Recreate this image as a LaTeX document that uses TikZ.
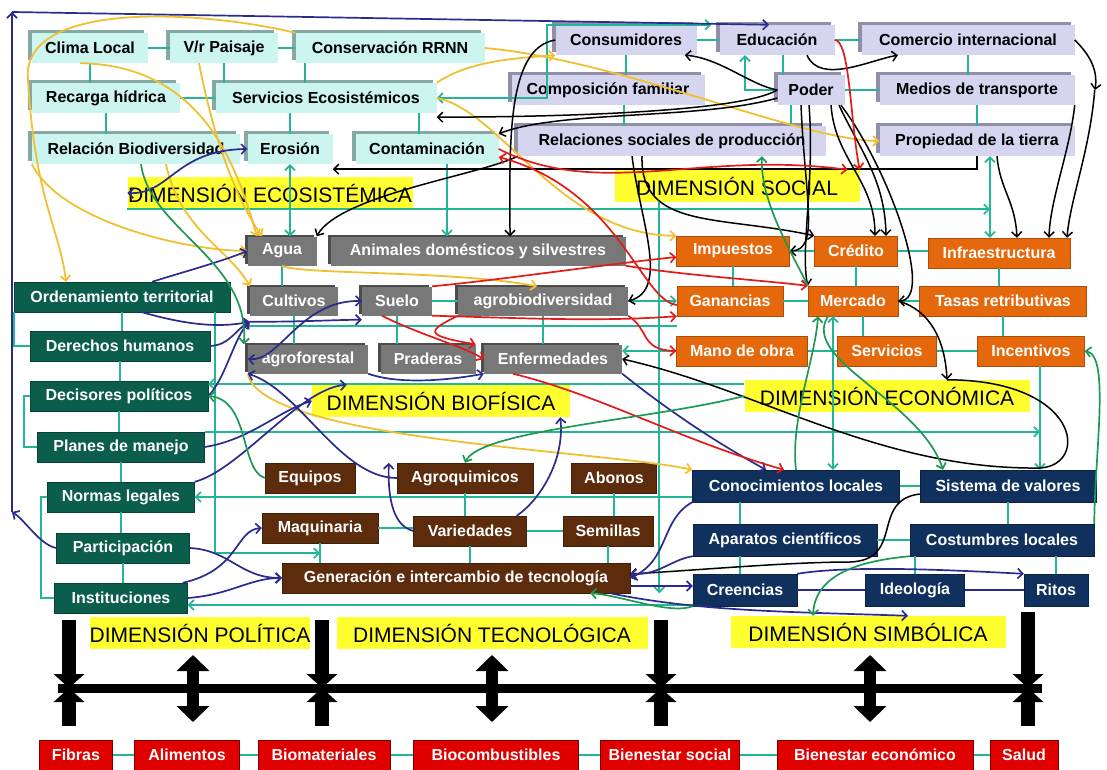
\documentclass[tikz,border=0pt]{standalone}
\usepackage{fontspec}
\setmainfont{Liberation Sans}
\usetikzlibrary{arrows.meta,shadows}

\definecolor{ecofondo}{HTML}{CCF5EF}
\definecolor{ecosombra}{HTML}{86A8A3}
\definecolor{socfondo}{HTML}{D5D5F0}
\definecolor{socsombra}{HTML}{9090AA}
\definecolor{biofondo}{HTML}{787878}
\definecolor{biosombra}{HTML}{4C4C4C}
\definecolor{ecnfondo}{HTML}{E5680C}
\definecolor{polfondo}{HTML}{0C5E4C}
\definecolor{tecfondo}{HTML}{5C2C0C}
\definecolor{simfondo}{HTML}{10305E}
\definecolor{prodfondo}{HTML}{E00000}
\definecolor{amarillo}{HTML}{FFFF30}
\definecolor{turquesa}{HTML}{22B598}
\definecolor{oro}{HTML}{F0C032}
\definecolor{azul}{HTML}{2B2B8E}
\definecolor{rojo}{HTML}{E21A1A}
\definecolor{verde}{HTML}{1E9955}

\tikzset{
  >={Straight Barb[length=5pt,width=10pt]},
  caja/.style={rectangle, minimum height=30pt, inner sep=2pt, text=white,
    font=\bfseries\fontsize{16}{18}\selectfont},
  ecobox/.style={caja, fill=ecofondo, text=black,
    general shadow={fill=ecosombra, shadow xshift=-4pt, shadow yshift=3pt}},
  socbox/.style={caja, fill=socfondo, text=black,
    general shadow={fill=socsombra, shadow xshift=-4pt, shadow yshift=3pt}},
  biobox/.style={caja, minimum height=29pt, fill=biofondo,
    general shadow={fill=biosombra, shadow xshift=-3pt, shadow yshift=2pt}},
  ecnbox/.style={caja, fill=ecnfondo, draw=ecnfondo!75!black},
  polbox/.style={caja, fill=polfondo, draw=polfondo!70!black},
  tecbox/.style={caja, fill=tecfondo, draw=tecfondo!70!black},
  simbox/.style={caja, minimum height=32pt, fill=simfondo, draw=simfondo!70!black},
  prodbox/.style={caja, fill=prodfondo, draw=prodfondo!55!black, line width=1pt},
  dimlabel/.style={rectangle, fill=amarillo, minimum height=32pt, inner sep=0pt,
    font=\fontsize{21}{24}\selectfont},
  tline/.style={draw=turquesa, line width=1.7pt},
  tarr/.style={tline, ->},
  tboth/.style={tline, <->},
  nline/.style={draw=azul, line width=1.7pt},
  yarr/.style={draw=oro, line width=1.8pt, ->},
  karr/.style={draw=black, line width=1.5pt, ->},
  narr/.style={draw=azul, line width=1.7pt, ->},
  nboth/.style={draw=azul, line width=1.7pt, <->},
  rarr/.style={draw=rojo, line width=1.7pt, ->},
  garr/.style={draw=verde, line width=1.7pt, ->},
  barra/.style={line width=14pt, -{Triangle[length=14pt,width=30pt]}},
  doble/.style={line width=12pt, {Triangle[length=16pt,width=32pt]}-{Triangle[length=16pt,width=32pt]}},
}

\begin{document}
\begin{tikzpicture}[x=1pt,y=-1pt]
\useasboundingbox (0,0) rectangle (1107,770);

% ecosistemica
\node[ecobox, minimum width=116] (clima) at (90,48) {Clima Local};
\node[ecobox, minimum width=108] (paisaje) at (224,48) {V/r Paisaje};
\node[ecobox, minimum width=189] (conserv) at (390,48) {Conservación RRNN};
\node[ecobox, minimum width=148] (recarga) at (106,98) {Recarga hídrica};
\node[ecobox, minimum width=221] (servicios) at (326,98) {Servicios Ecosistémicos};
\node[ecobox, minimum width=208] (relacion) at (136,149) {Relación Biodiversidad};
\node[ecobox, minimum width=85] (erosion) at (290,149) {Erosión};
\node[ecobox, minimum width=143] (contam) at (427,149) {Contaminación};

% social
\node[socbox, minimum width=141] (consum) at (626,40) {Consumidores};
\node[socbox, minimum width=115] (educ) at (777,40) {Educación};
\node[socbox, minimum width=213] (comercio) at (968,40) {Comercio internacional};
\node[socbox, minimum width=193] (compfam) at (608,90) {Composición familiar};
\node[socbox, minimum width=67] (poder) at (811,90) {Poder};
\node[socbox, minimum width=195] (medios) at (977,90) {Medios de transporte};
\node[socbox, minimum width=308] (relsoc) at (672,141) {Relaciones sociales de producción};
\node[socbox, minimum width=195] (propiedad) at (977,141) {Propiedad de la tierra};

% biofisica
\node[biobox, minimum width=69] (agua) at (282,251) {Agua};
\node[biobox, minimum width=295] (animales) at (478,251) {Animales domésticos y silvestres};
\node[biobox, minimum width=88] (cultivos) at (294,301) {Cultivos};
\node[biobox, minimum width=70] (suelo) at (397,301) {Suelo};
\node[biobox, minimum width=170] (agrobio) at (543,301) {agrobiodiversidad};
\node[biobox, minimum width=120] (agrofor) at (308,359) {agroforestal};
\node[biobox, minimum width=95] (praderas) at (428,359) {Praderas};
\node[biobox, minimum width=138] (enferm) at (553,359) {Enfermedades};

% economica
\node[ecnbox, minimum width=113] (impuestos) at (733,251) {Impuestos};
\node[ecnbox, minimum width=83] (credito) at (856,251) {Crédito};
\node[ecnbox, minimum width=142] (infra) at (999,253) {Infraestructura};
\node[ecnbox, minimum width=106] (ganancias) at (730,301) {Ganancias};
\node[ecnbox, minimum width=90] (mercado) at (853,301) {Mercado};
\node[ecnbox, minimum width=167] (tasas) at (1003,301) {Tasas retributivas};
\node[ecnbox, minimum width=131] (manoobra) at (742,351) {Mano de obra};
\node[ecnbox, minimum width=99] (servec) at (887,351) {Servicios};
\node[ecnbox, minimum width=107] (incentivos) at (1031,351) {Incentivos};

% politica
\node[polbox, minimum width=216] (orden) at (122,297) {Ordenamiento territorial};
\node[polbox, minimum width=180] (derechos) at (120,346) {Derechos humanos};
\node[polbox, minimum width=178] (decisores) at (119,396) {Decisores políticos};
\node[polbox, minimum width=167] (planes) at (121,447) {Planes de manejo};
\node[polbox, minimum width=147] (normas) at (121,497) {Normas legales};
\node[polbox, minimum width=133] (particip) at (123,548) {Participación};
\node[polbox, minimum width=133] (instit) at (121,598) {Instituciones};

% tecnologica
\node[tecbox, minimum width=90] (equipos) at (310,478) {Equipos};
\node[tecbox, minimum width=136] (agroq) at (465,478) {Agroquimicos};
\node[tecbox, minimum width=85] (abonos) at (614,478) {Abonos};
\node[tecbox, minimum width=116] (maquinaria) at (320,528) {Maquinaria};
\node[tecbox, minimum width=113] (variedades) at (470,531) {Variedades};
\node[tecbox, minimum width=90] (semillas) at (608,531) {Semillas};
\node[tecbox, minimum width=348] (generacion) at (456,578) {Generación e intercambio de tecnología};

% simbolica
\node[simbox, minimum width=207] (conoc) at (796,486) {Conocimientos locales};
\node[simbox, minimum width=176] (sistema) at (1008,486) {Sistema de valores};
\node[simbox, minimum width=184] (aparatos) at (785,540) {Aparatos científicos};
\node[simbox, minimum width=184] (costumbres) at (1002,540) {Costumbres locales};
\node[simbox, minimum width=104] (creencias) at (745,590) {Creencias};
\node[simbox, minimum width=99] (ideologia) at (915,590) {Ideología};
\node[simbox, minimum width=64] (ritos) at (1056,590) {Ritos};

% productos
\node[prodbox, minimum width=73] (fibras) at (76,755) {Fibras};
\node[prodbox, minimum width=105] (alimentos) at (187,755) {Alimentos};
\node[prodbox, minimum width=132] (biomat) at (324,755) {Biomateriales};
\node[prodbox, minimum width=165] (biocomb) at (496,755) {Biocombustibles};
\node[prodbox, minimum width=139] (biensoc) at (670,755) {Bienestar social};
\node[prodbox, minimum width=196] (bieneco) at (875,755) {Bienestar económico};
\node[prodbox, minimum width=68] (salud) at (1024,755) {Salud};

% etiquetas de dimension
\node[dimlabel, minimum width=285] (deco) at (270,193) {DIMENSIÓN ECOSISTÉMICA};
\node[dimlabel, minimum width=245] (dsoc) at (737,186) {DIMENSIÓN SOCIAL};
\node[dimlabel, minimum width=258] (dbio) at (441,401) {DIMENSIÓN BIOFÍSICA};
\node[dimlabel, minimum width=285] (decon) at (887,396) {DIMENSIÓN ECONÓMICA};
\node[dimlabel, minimum width=220] (dpol) at (200,633) {DIMENSIÓN POLÍTICA};
\node[dimlabel, minimum width=311] (dtec) at (492,633) {DIMENSIÓN TECNOLÓGICA};
\node[dimlabel, minimum width=275] (dsim) at (868,632) {DIMENSIÓN SIMBÓLICA};

% arboles turquesa
\draw[tline] (clima) -- (paisaje);
\draw[tline] (paisaje) -- (conserv);
\draw[tline] (clima.south) -- (clima.south |- recarga.north);
\draw[tline] (recarga.south) -- (recarga.south |- relacion.north);
\draw[tline] (recarga) -- (servicios);
\draw[tline] (paisaje.south) -- (paisaje.south |- servicios.north);
\draw[tline] ([xshift=10pt]conserv.south west) -- ([xshift=10pt]conserv.south west |- servicios.north);
\draw[tline] (erosion.north) -- (erosion.north |- servicios.south);
\draw[tline] ([xshift=-8pt]contam.north) -- ([xshift=-8pt]contam.north |- servicios.south);

\draw[tline] (consum) -- (educ);
\draw[tline] (educ) -- (comercio);
\draw[tline] (consum.south) -- (consum.south |- compfam.north);
\draw[tline] ([xshift=16pt]compfam.south) -- ([xshift=16pt]compfam.south |- relsoc.north);
\draw[tline] ([xshift=6pt]educ.south) -- ([xshift=6pt]educ.south |- poder.north);
\draw[tline] (poder) -- (medios);
\draw[tline] (comercio.south) -- (comercio.south |- medios.north);
\draw[tline] (medios.south) -- (medios.south |- propiedad.north);
\draw[tline] ([xshift=-20pt]poder.south) -- ([xshift=-20pt]poder.south |- relsoc.north);
\draw[tarr] (poder.west) -| ([xshift=-32pt]educ.south);
\draw[tboth] ([xshift=-8pt]educ.north west) -| ([xshift=-8pt]consum.north west) |- (servicios.east);

\draw[tline] (agua.south) -- (agua.south |- cultivos.north);
\draw[tline] (suelo) -- (agrobio);
\draw[tline] (cultivos.south) -- (cultivos.south |- agrofor.north);
\draw[tline] (suelo.south) -- (suelo.south |- praderas.north);
\draw[tline] (agrobio.south) -- (agrobio.south |- enferm.north);

\draw[tline] (impuestos) -- (credito);
\draw[tline] (credito.east) -- (credito.east -| infra.west);
\draw[tline] (ganancias) -- (mercado);
\draw[tline] (mercado) -- (tasas);
\draw[tline] (manoobra) -- (servec);
\draw[tline] (servec) -- (incentivos);
\draw[tline] (impuestos.south) -- (impuestos.south |- ganancias.north);
\draw[tline] (credito.south) -- (credito.south |- mercado.north);
\draw[tline] ([xshift=10pt]mercado.south) -- ([xshift=10pt]mercado.south |- servec.north);
\draw[tline] (infra.south) -- (infra.south |- tasas.north);
\draw[tline] (tasas.south) -- (tasas.south |- incentivos.north);

\foreach \uno/\dos in {orden/derechos, derechos/decisores, decisores/planes,
    planes/normas, normas/particip, particip/instit}
  \draw[tline] (\uno.south) -- (\uno.south |- \dos.north);
\draw[tline] (orden.south west) |- (derechos.west);
\draw[tline] (decisores.west) -- ++(-6,0) |- (planes.west);
\draw[tline] (normas.west) -- ++(-6,0) |- (instit.west);

\draw[tline] (maquinaria.east) -- (maquinaria.east -| variedades.west);
\draw[tline] (variedades) -- (semillas);
\draw[tline] (agroq.south) -- (agroq.south |- variedades.north);
\draw[tline] (maquinaria.south) -- (maquinaria.south |- generacion.north);
\draw[tline] (variedades.south) -- (variedades.south |- generacion.north);
\draw[tline] (semillas.south) -- (semillas.south |- generacion.north);
\draw[tline] (abonos.south) -- (abonos.south |- semillas.north);

\draw[tline] (conoc) -- (sistema);
\draw[tline] (aparatos) -- (costumbres);
\draw[nline] (creencias) -- (ideologia);
\draw[nline] (ideologia) -- (ritos);
\draw[tline] ([xshift=-56pt]conoc.south) -- ([xshift=-56pt]conoc.south |- aparatos.north);
\draw[tline] ([xshift=-45pt]aparatos.south) -- ([xshift=-45pt]aparatos.south |- creencias.north);
\draw[tline] (sistema.south) -- (sistema.south |- costumbres.north);
\draw[tline] (ritos.north) -- (ritos.north |- costumbres.south);
\draw[tline] (ideologia.north) -- (ideologia.north |- costumbres.south);

\foreach \uno/\dos in {fibras/alimentos, alimentos/biomat, biomat/biocomb,
    biocomb/biensoc, biensoc/bieneco, bieneco/salud}
  \draw[tline] (\uno) -- (\dos);

% lineas largas turquesa
\coordinate (incbaja) at ([xshift=9pt]incentivos.south);
\draw[tarr] (deco.south west) -- ([xshift=13pt]propiedad.south |- deco.south west);
\draw[tboth] ([xshift=13pt]propiedad.south) -- ([xshift=13pt]propiedad.south |- infra.north);
\draw[tarr] ([yshift=-15pt]creencias.west) -- ([yshift=-15pt]creencias.west -| instit.east);
\draw[tarr] ([yshift=-11pt]conoc.west) -- ([yshift=-11pt]conoc.west -| normas.east);
\draw[tarr] ([yshift=12pt]decon.west) -- ([yshift=12pt]decon.west -| decisores.east);
\draw[tarr] (planes.north east) -- (planes.north east -| incbaja);
\draw[tarr] (incbaja) -- (incbaja |- sistema.north);
\draw[tarr] (agrobio) -- (ganancias);
\draw[tarr] (manoobra.west) -- (manoobra.west -| enferm.east);
\draw[tline] ([yshift=-10pt]cultivos.south west) -- ([yshift=-10pt]cultivos.south west -| ganancias.west);
\draw[tarr] ([xshift=45pt]dsoc.south west) -- ([xshift=45pt]dsoc.south west |- generacion.south);
\draw[tarr] ([xshift=-15pt]orden.south east) |- ([yshift=-10pt]maquinaria.south);
\draw[tboth] (erosion.south) -- (erosion.south |- agua.north);
\draw[tarr] ([xshift=20pt]contam.south) -- ([xshift=20pt]contam.south |- animales.north);
\draw[tboth] ([xshift=-20pt]mercado.south) -- ([xshift=-20pt]mercado.south |- conoc.north);

% amarillo
\draw[yarr] (conserv.east) .. controls (620,60) and (800,140) .. (propiedad.west);
\draw[yarr] (servicios.north east) .. controls (470,60) and (520,58) .. (consum.south west);
\draw[yarr] (servicios.east) .. controls (500,110) and (560,235) .. (impuestos.north west);
\draw[yarr] ([xshift=-10pt]clima.south) .. controls (210,65) and (240,180) .. ([xshift=-25pt]agua.north);
\draw[yarr] ([xshift=-25pt]paisaje.south) .. controls (210,120) and (230,190) .. ([xshift=-20pt]agua.north);
\draw[yarr] (conserv.north west) .. controls (200,10) and (20,0) .. (28,80)
  .. controls (35,200) and (60,230) .. ([xshift=-56pt]orden.north);
\draw[yarr] (relacion.south west) .. controls (60,220) and (180,250) .. (agua.west);
\draw[yarr] ([xshift=30pt]relacion.south) .. controls (180,230) and (230,250) .. (cultivos.north west);
\draw[yarr] (agrofor.south west) .. controls (260,440) and (600,450) .. (conoc.north west);
\draw[yarr] (agua.south) .. controls (300,275) and (450,270) .. ([xshift=-6pt]agrobio.north);

% negro
\coordinate (comder) at (1095,90);
\draw[karr] (consum.west) .. controls (505,48) and (510,150) .. ([xshift=32pt]animales.north);
\draw[karr] ([xshift=30pt]educ.south) .. controls (820,85) and (870,60) .. ([xshift=-70pt]comercio.south);
\draw[karr] (poder.west) .. controls (750,85) and (720,58) .. ([xshift=-12pt]consum.south east);
\draw[karr] (poder.west) .. controls (740,112) and (560,117) .. ([yshift=-4pt]servicios.south east);
\draw[karr] ([yshift=-8pt]poder.west) .. controls (700,120) and (560,110) .. (contam.north east);
\draw[karr] (propiedad.south) |- ([yshift=-5pt]erosion.south east);
\draw[karr] ([xshift=20pt]propiedad.south) .. controls (1000,190) and (1015,200) .. ([xshift=18pt]infra.north);
\draw[karr] (comercio.east) .. controls (1090,55) and (1098,70) .. (comder);
\draw[karr] ([xshift=20pt]medios.east) .. controls (1090,150) and (1070,200) .. ([xshift=68pt]infra.north);
\draw[karr] (medios.south east) .. controls (1070,150) and (1050,200) .. ([xshift=50pt]infra.north);
\draw[karr] ([xshift=20pt]poder.south) .. controls (835,160) and (875,180) .. ([xshift=19pt]credito.north);
\draw[karr] ([xshift=28pt]poder.south) .. controls (860,150) and (885,180) .. ([xshift=30pt]credito.north);
\draw[karr] ([xshift=-30pt]relsoc.south) .. controls (640,230) and (720,215) .. (credito.north west);
\draw[karr] ([xshift=-10pt]poder.south) .. controls (805,200) and (820,250) .. (impuestos.east);
\draw[karr] ([xshift=-2pt]poder.south) .. controls (815,180) and (800,250) .. (mercado.north west);
\draw[karr] ([xshift=30pt]poder.south) .. controls (890,170) and (935,300) .. (mercado.east);
\draw[karr] (mercado.east) .. controls (930,310) and (945,340) .. ([xshift=60pt]decon.north);
\draw[karr] ([xshift=60pt]decon.north) .. controls (1080,380) and (1090,465) .. (1040,468)
  .. controls (880,470) and (760,390) .. (enferm.east);
\draw[karr] ([yshift=-8pt]sistema.west) .. controls (870,500) and (905,560) .. (850,562)
  .. controls (790,562) and (700,570) .. ([yshift=4pt]generacion.east);
\draw[karr] ([xshift=-40pt]relsoc.south) .. controls (640,220) and (670,290) .. (agrobio.east);
\draw[karr] (relsoc.south west) .. controls (480,175) and (340,195) .. (agua.north east);

% azul
\coordinate (marcoabajo) at (12,512);
\coordinate (marcoarriba) at (12,12);
\draw[narr] (particip.west) .. controls (40,545) and (25,520) .. (marcoabajo);
\draw[narr] (marcoabajo) -- (marcoarriba);
\draw[narr] (marcoarriba) -- ([xshift=-8pt]educ.north);
\draw[nboth] (deco.west) .. controls (170,195) and (175,150) .. (erosion.west);
\draw[narr] ([xshift=20pt]orden.south) .. controls (170,320) and (210,330) .. ([yshift=-6pt]cultivos.south west);
\draw[narr] ([xshift=30pt]orden.north) .. controls (190,270) and (220,262) .. (agua.west);
\draw[narr] (derechos.east) .. controls (230,345) and (235,330) .. ([yshift=-6pt]cultivos.south west);
\draw[nboth] (agrofor.west) .. controls (280,362) and (300,300) .. (suelo.west);
\draw[narr] ([yshift=-6pt]cultivos.south west) .. controls (300,322) and (330,320) .. ([yshift=-4pt]suelo.south west);
\draw[narr] (decisores.east) .. controls (225,380) and (235,335) .. ([yshift=-6pt]cultivos.south west);
\draw[narr] (planes.east) .. controls (250,440) and (280,410) .. (dbio.west);
\draw[narr] (normas.north east) .. controls (240,470) and (300,388) .. ([xshift=35pt]dbio.north west);
\draw[narr] (agrofor.south east) .. controls (400,385) and (450,380) .. (enferm.south west);
\draw[narr] (variedades.west) .. controls (390,525) and (388,490) .. ([xshift=-8pt]agroq.north west);
\draw[narr] ([xshift=-10pt]variedades.north east) .. controls (540,500) and (565,460) .. ([xshift=-10pt]dbio.south east);
\draw[narr] (particip.east) .. controls (230,550) and (240,578) .. (generacion.west);
\draw[narr] (instit.east) .. controls (230,595) and (250,578) .. (generacion.west);
\draw[narr] ([xshift=-5pt]instit.north east) .. controls (240,570) and (235,530) .. (maquinaria.west);
\draw[narr] ([yshift=-8pt]generacion.east) -- ([yshift=-8pt]generacion.east -| creencias.west);
\draw[narr] (aparatos.south west) .. controls (670,560) and (660,575) .. ([yshift=4pt]generacion.east);
\draw[narr] (conoc.south west) .. controls (660,520) and (670,560) .. (generacion.east);
\draw[narr] (creencias.north east) .. controls (850,565) and (950,570) .. (ritos.north west);
\draw[narr] ([xshift=-20pt]generacion.south east) .. controls (700,612) and (800,612) .. ([xshift=40pt]dsim.north);
\draw[narr] (enferm.south east) .. controls (680,420) and (730,450) .. ([xshift=-30pt]conoc.north);
\draw[narr] (agroq.west) .. controls (340,478) and (300,390) .. (agrofor.south west);

% rojo
\draw[rarr] (educ.east) .. controls (850,40) and (850,120) .. (dsoc.north east);
\draw[rarr] (contam.east) .. controls (600,200) and (700,150) .. ([xshift=-12pt]dsoc.north east);
\draw[rarr] ([yshift=-4pt]ganancias.west) .. controls (640,300) and (620,190) .. ([yshift=-8pt]contam.east);
\draw[rarr] (suelo.north east) .. controls (500,280) and (600,265) .. ([yshift=-6pt]impuestos.west);
\draw[rarr] (suelo.south east) .. controls (520,318) and (600,322) .. (ganancias.south west);
\draw[rarr] ([xshift=-15pt]suelo.south) .. controls (420,335) and (460,345) .. (enferm.west);
\draw[rarr] (agrobio.south west) .. controls (430,330) and (420,335) .. (praderas.north east);
\draw[rarr] ([xshift=-40pt]enferm.south) .. controls (600,395) and (680,440) .. ([xshift=-12pt]conoc.north);
\draw[rarr] (agrobio.south east) .. controls (650,330) and (640,350) .. (manoobra.west);
\draw[rarr] (animales.south east) .. controls (680,275) and (760,280) .. (mercado.north west);

% verde
\draw[garr] ([xshift=5pt]relacion.south) .. controls (150,230) and (250,260) .. ([xshift=-4pt]agrofor.north west);
\draw[garr] ([xshift=-25pt]mercado.south) .. controls (800,360) and (920,400) .. ([xshift=-65pt]sistema.north);
\draw[garr] (conoc.north) .. controls (790,420) and (815,360) .. ([xshift=-35pt]mercado.south);
\draw[garr] (costumbres.north east) .. controls (1095,450) and (1110,355) .. (incentivos.east);
\draw[garr] (costumbres.south west) .. controls (870,560) and (815,570) .. ([xshift=-55pt]dsim.north);
\draw[garr] (creencias.south west) .. controls (670,615) and (620,595) .. ([xshift=-40pt]generacion.south east);
\draw[garr] (equipos.west) .. controls (240,470) and (250,400) .. (decisores.east);
\draw[garr] (decon.west) .. controls (650,420) and (480,430) .. (agroq.north);
\draw[garr] ([xshift=-45pt]mercado.north) .. controls (790,250) and (760,200) .. ([xshift=90pt]relsoc.south);

% eje inferior
\coordinate (ejeizq) at (58,688);
\coordinate (ejeder) at (1042,688);
\draw[line width=9pt] (ejeizq) -- (ejeder);
\foreach \xx/\yy in {69/620, 322/620, 661/620, 1028/612} {
  \draw[barra] (\xx,\yy) -- (\xx,688);
  \draw[barra] (\xx,726) -- (\xx,688);
}
\foreach \xx in {193,492,870}
  \draw[doble] (\xx,655) -- (\xx,722);
\end{tikzpicture}
\end{document}
